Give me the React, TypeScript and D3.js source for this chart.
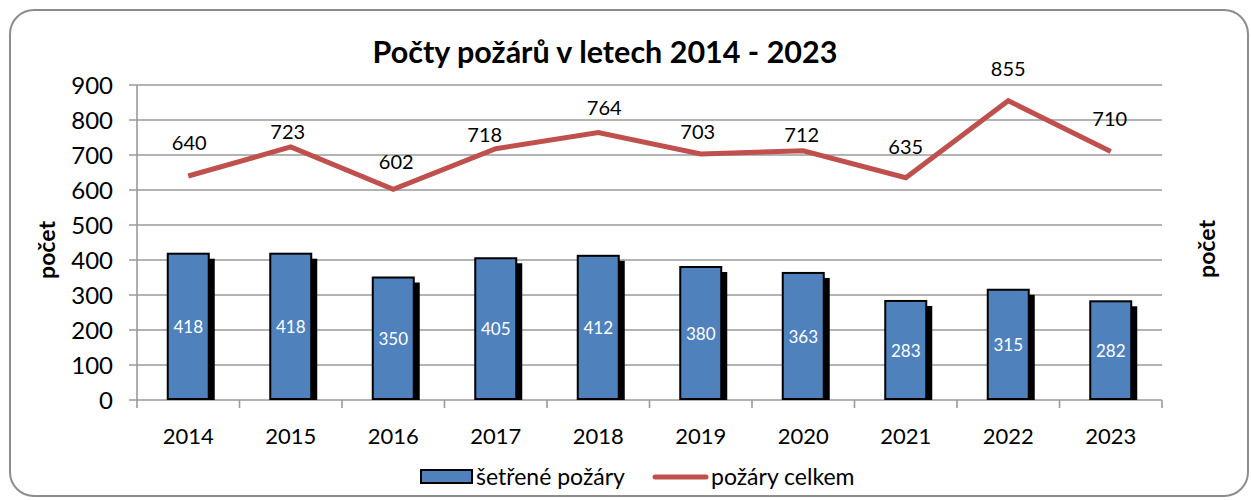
import React from "react";
import * as d3 from "d3";

const years = ["2014", "2015", "2016", "2017", "2018", "2019", "2020", "2021", "2022", "2023"];
const investigated = [418, 418, 350, 405, 412, 380, 363, 283, 315, 282];
const total = [640, 723, 602, 718, 764, 703, 712, 635, 855, 710];
const yTicks = [0, 100, 200, 300, 400, 500, 600, 700, 800, 900];
const lineLabelNudgeX = [1, -3, 3, -11, 6, -3, -1.5, 0, 0, -1];
const lineLabelNudgeY = [-33, -15, -28, -14, -25, -22, -16, -31, -32, -33];

const W = 1251;
const H = 500;
const FONT = "Lato, 'Open Sans', 'DejaVu Sans', sans-serif";
const BLUE = "#4F81BD";
const RED = "#C0504D";
const GRID = "#9a9a9a";

export default function App() {
  const x = d3.scaleBand<string>().domain(years).range([137, 1162]).padding(0);
  const y = d3.scaleLinear().domain([0, 900]).range([400, 85]);
  const bw = x.bandwidth() * 0.4;
  const cx = (yr: string) => (x(yr) as number) + x.bandwidth() / 2;
  const line = d3
    .line<number>()
    .x((_, i) => cx(years[i]))
    .y((d) => y(d));

  const boundaries = years.map((yr) => x(yr) as number).concat([1162]);

  return (
    <svg
      width={W}
      height={H}
      style={{ position: "absolute", left: 0, top: 0, background: "#fff" }}
      fontFamily={FONT}
    >
      <rect x={10} y={10} width={1238} height={486} rx={24} ry={24} fill="#fff" stroke="#8c8c8c" strokeWidth={2} />
      <text x={605} y={63} textAnchor="middle" fontSize={30.5} fontWeight="bold" fill="#000">
        Počty požárů v letech 2014 - 2023
      </text>

      {/* gridlines */}
      {yTicks.map((t) => (
        <line key={"g" + t} x1={129} x2={1162} y1={y(t)} y2={y(t)} stroke={GRID} strokeWidth={1.6} />
      ))}
      {/* axis */}
      <line x1={137} x2={137} y1={y(900)} y2={y(0)} stroke={GRID} strokeWidth={1.6} />
      {boundaries.map((b, i) => (
        <line key={"bt" + i} x1={b} x2={b} y1={y(0)} y2={y(0) + 8} stroke={GRID} strokeWidth={1.6} />
      ))}
      {yTicks.map((t) => (
        <text key={"yl" + t} x={113} y={y(t)} dy="0.36em" textAnchor="end" fontSize={24} fill="#000">
          {t}
        </text>
      ))}
      {years.map((yr) => (
        <text key={"xl" + yr} x={cx(yr)} y={444} textAnchor="middle" fontSize={22} fill="#000">
          {yr}
        </text>
      ))}

      {/* bars */}
      {investigated.map((v, i) => {
        const bx = cx(years[i]) - bw / 2;
        const top = y(v);
        return (
          <g key={"b" + i}>
            <rect x={bx + 6} y={top + 5} width={bw} height={y(0) - top - 5} fill="#000" />
            <rect x={bx} y={top} width={bw} height={y(0) - top - 1} fill={BLUE} stroke="#000" strokeWidth={2} />
            <text x={cx(years[i])} y={(top + y(0)) / 2} dy="0.36em" textAnchor="middle" fontSize={17} fill="#fff">
              {v}
            </text>
          </g>
        );
      })}

      {/* line */}
      <path d={line(total) || ""} fill="none" stroke={RED} strokeWidth={5} strokeLinejoin="miter" />
      {total.map((v, i) => (
        <text
          key={"ll" + i}
          x={cx(years[i]) + lineLabelNudgeX[i]}
          y={y(v) + lineLabelNudgeY[i]}
          dy="0.36em"
          textAnchor="middle"
          fontSize={20}
          fill="#000"
        >
          {v}
        </text>
      ))}

      {/* axis titles */}
      <text transform="translate(55,250) rotate(-90)" textAnchor="middle" fontSize={23} fontWeight="bold" fill="#000">
        počet
      </text>
      <text transform="translate(1215,249) rotate(-90)" textAnchor="middle" fontSize={23} fontWeight="bold" fill="#000">
        počet
      </text>

      {/* legend */}
      <rect x={421} y={470} width={51} height={13} fill={BLUE} stroke="#000" strokeWidth={2} />
      <text x={476} y={485} fontSize={23} fill="#000">šetřené požáry</text>
      <line x1={655} x2={706} y1={477} y2={477} stroke={RED} strokeWidth={5} strokeLinecap="round" />
      <text x={711} y={485} fontSize={23} fill="#000">požáry celkem</text>
    </svg>
  );
}
